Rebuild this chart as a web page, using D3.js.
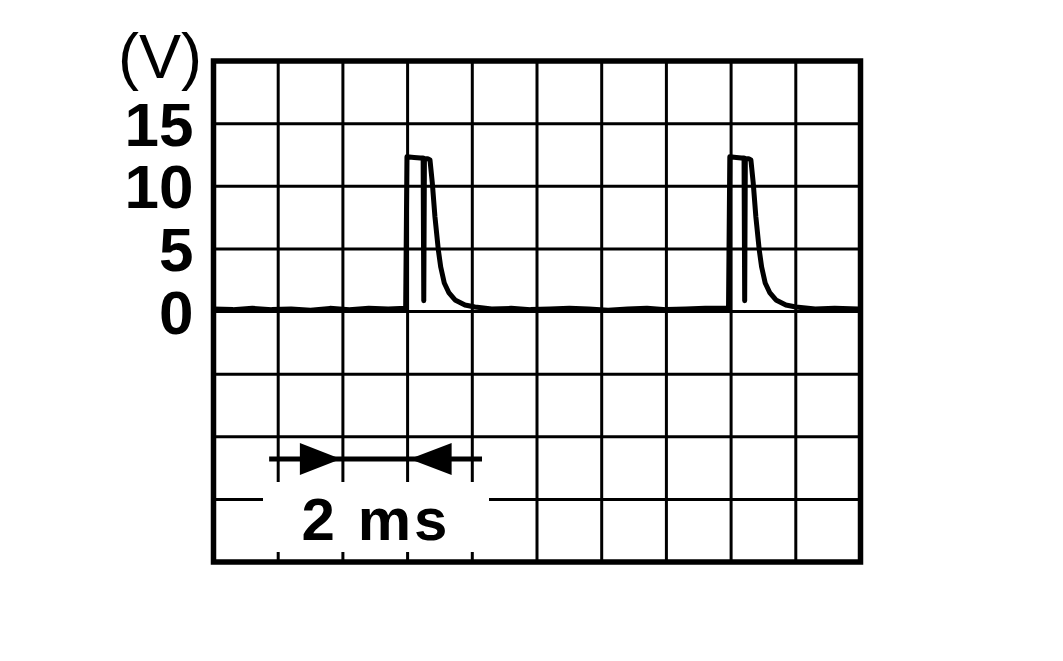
<!DOCTYPE html>
<html>
<head>
<meta charset="utf-8">
<script src="https://cdn.jsdelivr.net/npm/d3@7"></script>
<style>
  body { margin: 0; background: #fff; }
  svg { display: block; }
  .grid line { stroke: #000; stroke-width: 3; }
  .tick-labels text { font-family: "Liberation Sans", Arial, sans-serif; font-weight: bold; font-size: 62px; }
</style>
</head>
<body>
<svg id="chart" width="1063" height="661"></svg>
<script>
// time in ms, voltage in V
const times = [
    0.00, 0.30, 0.60, 0.90, 1.20, 1.50, 1.80, 2.10, 2.40, 2.70, 2.97,
    2.99, 3.10, 3.20, 3.24, 3.25, 3.26, 3.31, 3.346, 3.382, 3.423, 3.475, 3.512, 3.567, 3.64, 3.733, 3.887, 4.042,
    4.30, 4.60, 4.90, 5.20, 5.50, 5.80, 6.10, 6.40, 6.70, 7.00, 7.30, 7.60, 7.96,
    7.98, 8.08, 8.16, 8.20, 8.21, 8.22, 8.27, 8.306, 8.342, 8.383, 8.435, 8.472, 8.527, 8.60, 8.693, 8.847, 9.002,
    9.30, 9.60, 9.97
];
const volts = [
    0.20, 0.15, 0.25, 0.15, 0.20, 0.10, 0.25, 0.15, 0.25, 0.20, 0.25,
    12.35, 12.3, 12.25, 12.25, 0.85, 12.2, 12.2, 12.1, 10.26, 7.54, 4.91, 3.55, 2.28, 1.48, 0.92, 0.52, 0.36,
    0.20, 0.25, 0.15, 0.20, 0.25, 0.20, 0.10, 0.20, 0.25, 0.15, 0.20, 0.25, 0.25,
    12.35, 12.3, 12.25, 12.25, 0.85, 12.2, 12.2, 12.1, 10.26, 7.54, 4.91, 3.55, 2.28, 1.48, 0.92, 0.52, 0.36,
    0.20, 0.25, 0.20
];
const yTickValues = [0, 5, 10, 15];
const unitLabel = '(V)';
const spanLabel = '2 ms';
const spanMarks = [2, 3];        // arrow tips (ms)
const spanLine = [0.86, 4.15];   // arrow shaft ends (ms)

const svg = d3.select('#chart');

const x = d3.scaleLinear().domain([0, 10]).range([213.5, 860.5]);
const y = d3.scaleLinear().domain([-20, 20]).range([562, 61]);

// grid
const grid = svg.append('g').classed('grid', true);
grid.selectAll('line.v')
    .data(d3.range(1, 10))
    .enter()
    .append('line')
    .attr('class', 'v')
    .attr('x1', d => x(d)).attr('x2', d => x(d))
    .attr('y1', y(20)).attr('y2', y(-20));
grid.selectAll('line.h')
    .data(d3.range(-15, 20, 5))
    .enter()
    .append('line')
    .attr('class', 'h')
    .attr('x1', x(0)).attr('x2', x(10))
    .attr('y1', d => y(d)).attr('y2', d => y(d));

// label box for "2 ms" (hides grid behind it)
svg.append('rect')
    .attr('x', 263).attr('y', 482)
    .attr('width', 226).attr('height', 70)
    .attr('fill', '#fff');

// frame
svg.append('rect')
    .attr('x', x(0)).attr('y', y(20))
    .attr('width', x(10) - x(0)).attr('height', y(-20) - y(20))
    .attr('fill', 'none')
    .attr('stroke', '#000')
    .attr('stroke-width', 5.5);

// y tick labels
const yAxis = d3.axisLeft(y).tickValues(yTickValues).tickSize(0).tickPadding(20);
const ya = svg.append('g')
    .classed('tick-labels', true)
    .attr('transform', `translate(${x(0)},0)`)
    .call(yAxis);
ya.select('.domain').remove();
ya.selectAll('text').attr('dy', '0.35em').attr('fill', '#000');

svg.append('text')
    .attr('x', 202).attr('y', 78)
    .attr('text-anchor', 'end')
    .attr('font-family', '"Liberation Sans", Arial, sans-serif')
    .attr('font-size', 63)
    .text(unitLabel);

// trace
const pts = times.map((t, i) => [t, volts[i]]);
const line = d3.line().x(d => x(d[0])).y(d => y(d[1]));
svg.append('path')
    .datum(pts)
    .attr('d', line)
    .attr('fill', 'none')
    .attr('stroke', '#000')
    .attr('stroke-width', 5)
    .attr('stroke-linejoin', 'round');

// span arrows
const ay = 459;
svg.append('line')
    .attr('x1', x(spanLine[0])).attr('x2', x(spanLine[1]))
    .attr('y1', ay).attr('y2', ay)
    .attr('stroke', '#000').attr('stroke-width', 5);
svg.append('path')
    .attr('d', `M${x(spanMarks[0]) - 2},${ay} L${x(spanMarks[0]) - 43},${ay - 16} L${x(spanMarks[0]) - 43},${ay + 16} Z`)
    .attr('fill', '#000');
svg.append('path')
    .attr('d', `M${x(spanMarks[1]) + 2},${ay} L${x(spanMarks[1]) + 44},${ay - 16} L${x(spanMarks[1]) + 44},${ay + 16} Z`)
    .attr('fill', '#000');

svg.append('text')
    .attr('x', 376).attr('y', 540)
    .attr('text-anchor', 'middle')
    .attr('font-family', '"Liberation Sans", Arial, sans-serif')
    .attr('font-weight', 'bold')
    .attr('font-size', 60)
    .attr('letter-spacing', 3)
    .text(spanLabel);
</script>
</body>
</html>
